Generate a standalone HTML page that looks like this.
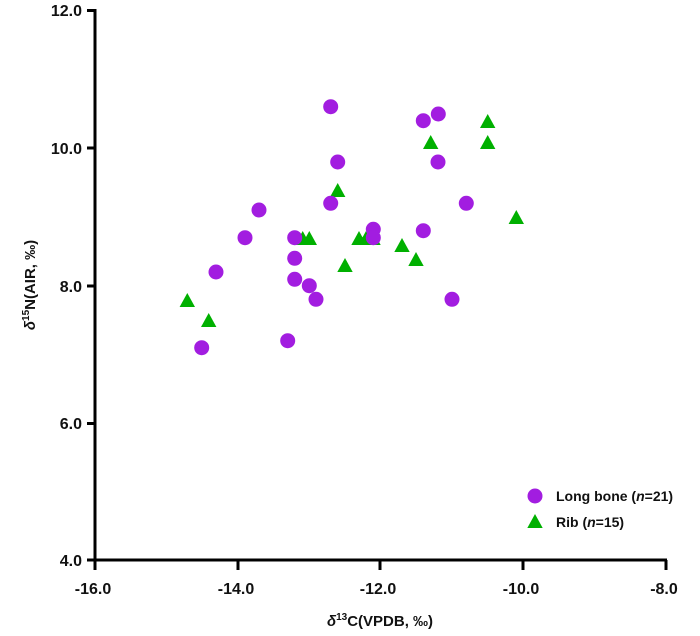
<!DOCTYPE html>
<html><head><style>body{margin:0;background:#fff}svg{display:block}text{font-family:"Liberation Sans",Arial,sans-serif;font-weight:bold;fill:#111}</style></head>
<body>
<svg width="700" height="636" viewBox="0 0 700 636">
<g stroke="#000" stroke-width="3" fill="none">
<line x1="95" y1="9" x2="95" y2="561"/>
<line x1="93.5" y1="560" x2="667" y2="560"/>
<line x1="87" y1="10.5" x2="95" y2="10.5"/><line x1="87" y1="148" x2="95" y2="148"/><line x1="87" y1="286" x2="95" y2="286"/><line x1="87" y1="423.5" x2="95" y2="423.5"/><line x1="87" y1="560" x2="95" y2="560"/>
<line x1="95" y1="560" x2="95" y2="570"/><line x1="238" y1="560" x2="238" y2="570"/><line x1="380" y1="560" x2="380" y2="570"/><line x1="523" y1="560" x2="523" y2="570"/><line x1="666" y1="560" x2="666" y2="570"/>
</g>
<g font-size="16" text-anchor="end">
<text x="82" y="16">12.0</text><text x="82" y="154">10.0</text><text x="82" y="292">8.0</text><text x="82" y="429">6.0</text><text x="82" y="566">4.0</text>
</g>
<g font-size="16" text-anchor="middle">
<text x="93" y="594">-16.0</text><text x="236" y="594">-14.0</text><text x="378" y="594">-12.0</text><text x="521" y="594">-10.0</text><text x="664" y="594">-8.0</text>
</g>
<text x="380" y="626" font-size="15" text-anchor="middle"><tspan font-style="italic">δ</tspan><tspan font-size="10" dy="-6">13</tspan><tspan dy="6">C(VPDB, ‰)</tspan></text>
<text transform="translate(35,285) rotate(-90)" font-size="15" text-anchor="middle"><tspan font-style="italic">δ</tspan><tspan font-size="10" dy="-6">15</tspan><tspan dy="6">N(AIR, ‰)</tspan></text>
<g fill="#00b000">
<polygon points="487.7,114 480,128 495.4,128"/><polygon points="430.7,135 423,149 438.4,149"/><polygon points="487.7,135 480,149 495.4,149"/><polygon points="337.7,183 330,197 345.4,197"/><polygon points="516.3,210 508.6,224 524,224"/><polygon points="302.7,231 295,245 310.4,245"/><polygon points="309.3,231 301.6,245 317,245"/><polygon points="359,231 351.3,245 366.7,245"/><polygon points="366,231 358.3,245 373.7,245"/><polygon points="373,231 365.3,245 380.7,245"/><polygon points="402,238 394.3,252 409.7,252"/><polygon points="416,252 408.3,266 423.7,266"/><polygon points="345,258 337.3,272 352.7,272"/><polygon points="187.3,293 179.6,307 195,307"/><polygon points="208.7,313 201,327 216.4,327"/>
</g>
<g fill="#a21de0">
<circle cx="330.7" cy="106.7" r="7.5"/><circle cx="423.3" cy="120.7" r="7.5"/><circle cx="438.3" cy="114" r="7.5"/><circle cx="337.7" cy="162" r="7.5"/><circle cx="438" cy="162" r="7.5"/><circle cx="330.7" cy="203.3" r="7.5"/><circle cx="259" cy="210" r="7.5"/><circle cx="466.3" cy="203.3" r="7.5"/><circle cx="245" cy="237.7" r="7.5"/><circle cx="294.7" cy="237.7" r="7.5"/><circle cx="373.3" cy="229.3" r="7.5"/><circle cx="373.3" cy="237.7" r="7.5"/><circle cx="423.3" cy="230.7" r="7.5"/><circle cx="294.7" cy="258.3" r="7.5"/><circle cx="216" cy="272" r="7.5"/><circle cx="294.7" cy="279.3" r="7.5"/><circle cx="309.3" cy="285.7" r="7.5"/><circle cx="316" cy="299.3" r="7.5"/><circle cx="452" cy="299.3" r="7.5"/><circle cx="287.7" cy="340.7" r="7.5"/><circle cx="201.7" cy="347.7" r="7.5"/>
<circle cx="535" cy="496" r="7.5"/>
</g>
<polygon points="535,514 527.3,528 542.7,528" fill="#00b000"/>
<text x="556" y="501" font-size="14">Long bone (<tspan font-style="italic">n</tspan>=21)</text>
<text x="556" y="527" font-size="14">Rib (<tspan font-style="italic">n</tspan>=15)</text>
</svg>
</body></html>
